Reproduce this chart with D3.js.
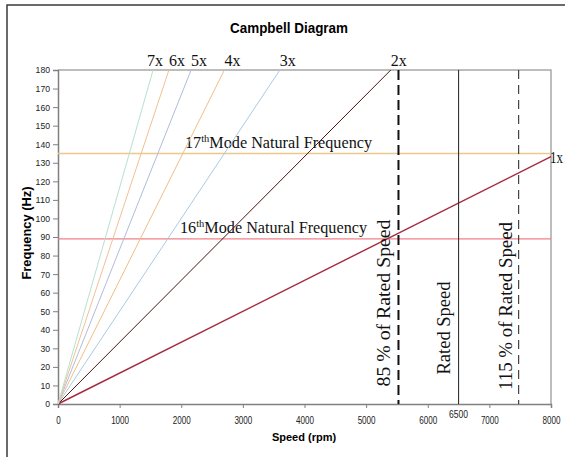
<!DOCTYPE html>
<html>
<head>
<meta charset="utf-8">
<script src="https://cdn.jsdelivr.net/npm/d3@7"></script>
<style>
  body { margin: 0; background: #fff; }
  svg { display: block; }
</style>
</head>
<body>
<div class="container"></div>
<script>
// engine orders, and where each line leaves the plot (rpm, Hz)
var orderLabels = ["1x", "2x", "3x", "4x", "5x", "6x", "7x"];
var orderEndRpm = [8000, 5400, 3600, 2700, 2160, 1800, 1543];
var orderEndHz  = [133.3, 180, 180, 180, 180, 180, 180];
var orderColors = ["#a52a3f", "#4a1414", "#a9c9e6", "#efbf86", "#b0bcdc", "#f1c094", "#b7e2cc"];

// natural frequencies (Hz)
var modeLabels = ["16", "17"];
var modeHz = [89, 135];
var modeColors = ["#f08088", "#ecc88c"];

// speed markers (rpm)
var speedLabels = ["85 %  of  Rated Speed", "Rated Speed", "115 % of Rated Speed"];
var speedRpm = [5525, 6500, 7475];

var xTicks = [0, 1000, 2000, 3000, 4000, 5000, 6000, 7000, 8000];
var yTicks = d3.range(0, 181, 10);

var W = 565, H = 457;
var x = d3.scaleLinear().domain([0, 8000]).range([58, 551]);
var y = d3.scaleLinear().domain([0, 180]).range([404, 70]);

var svg = d3.select(".container").append("svg")
  .attr("width", W).attr("height", H);

// outer frame
svg.append("rect")
  .attr("x", 7).attr("y", 5).attr("width", 600).attr("height", 500)
  .attr("fill", "none").attr("stroke", "#3a3a3a").attr("stroke-width", 1.5);

// title
svg.append("text")
  .attr("x", 289).attr("y", 33)
  .attr("text-anchor", "middle")
  .attr("font-family", "Liberation Sans, Arial, sans-serif")
  .attr("font-weight", "bold").attr("font-size", 15)
  .attr("textLength", 118).attr("lengthAdjust", "spacingAndGlyphs")
  .text("Campbell Diagram");

// plot frame top/right
svg.append("path")
  .attr("d", "M" + x(0) + "," + y(180) + "H" + x(8000) + "V" + y(0))
  .attr("fill", "none").attr("stroke", "#a8a8a8").attr("stroke-width", 1.5);

// axes
var yAxis = svg.append("g")
  .attr("transform", "translate(" + x(0) + ",0)")
  .call(d3.axisLeft(y).tickValues(yTicks).tickSize(5).tickPadding(3));
var xAxis = svg.append("g")
  .attr("transform", "translate(0," + y(0) + ")")
  .call(d3.axisBottom(x).tickValues(xTicks).tickFormat(d3.format("d")).tickSize(4).tickPadding(8));

[yAxis, xAxis].forEach(function(a) {
  a.select(".domain").attr("stroke", "#808080").attr("stroke-width", 1.5);
  a.selectAll(".tick line").attr("stroke", "#808080");
  a.selectAll(".tick text")
    .attr("fill", "#222")
    .attr("font-family", "Liberation Sans, Arial, sans-serif");
});
yAxis.selectAll(".tick text")
  .attr("font-size", 9)
  .attr("textLength", function(d) { return String(d).length * 4.8; })
  .attr("lengthAdjust", "spacingAndGlyphs");
xAxis.selectAll(".tick text")
  .attr("font-size", 11)
  .attr("textLength", function(d) { return String(d).length * 4.5; })
  .attr("lengthAdjust", "spacingAndGlyphs");

// extra 6500 label
svg.append("text")
  .attr("x", x(6500)).attr("y", 418)
  .attr("text-anchor", "middle")
  .attr("font-family", "Liberation Sans, Arial, sans-serif")
  .attr("font-size", 11).attr("fill", "#222")
  .attr("textLength", 19).attr("lengthAdjust", "spacingAndGlyphs")
  .text("6500");

// axis titles
svg.append("text")
  .attr("x", 304).attr("y", 441)
  .attr("text-anchor", "middle")
  .attr("font-family", "Liberation Sans, Arial, sans-serif")
  .attr("font-weight", "bold").attr("font-size", 11)
  .text("Speed (rpm)");

svg.append("text")
  .attr("transform", "translate(31,233) rotate(-90)")
  .attr("text-anchor", "middle")
  .attr("font-family", "Liberation Sans, Arial, sans-serif")
  .attr("font-weight", "bold").attr("font-size", 12)
  .attr("textLength", 93).attr("lengthAdjust", "spacingAndGlyphs")
  .text("Frequency (Hz)");

// mode lines
svg.append("g").selectAll("line")
  .data(modeHz)
  .enter().append("line")
    .attr("x1", x(0)).attr("x2", x(8000))
    .attr("y1", function(d) { return y(d); })
    .attr("y2", function(d) { return y(d); })
    .attr("stroke", function(d, i) { return modeColors[i]; })
    .attr("stroke-width", 1.4);

var serif = "Liberation Serif, 'Times New Roman', serif";
var modeText = svg.append("g").selectAll("text")
  .data(modeHz)
  .enter().append("text")
    .attr("x", function(d, i) { return i === 0 ? 180 : 185; })
    .attr("y", function(d) { return y(d) - 6; })
    .attr("font-family", serif).attr("font-size", 17).attr("fill", "#111")
    .attr("textLength", 187).attr("lengthAdjust", "spacingAndGlyphs");
modeText.append("tspan").text(function(d, i) { return modeLabels[i]; });
modeText.append("tspan").attr("dy", -6).attr("font-size", 11).text("th");
modeText.append("tspan").attr("dy", 6).text("Mode Natural Frequency");

// order lines
var line = d3.line().x(function(p) { return x(p[0]); }).y(function(p) { return y(p[1]); });
svg.append("g").selectAll("path")
  .data(orderLabels)
  .enter().append("path")
    .attr("d", function(d, i) { return line([[0, 0], [orderEndRpm[i], orderEndHz[i]]]); })
    .attr("fill", "none")
    .attr("stroke", function(d, i) { return orderColors[i]; })
    .attr("stroke-width", function(d, i) { return i === 0 ? 1.4 : 1; });

// order labels
svg.append("g").selectAll("text")
  .data(orderLabels)
  .enter().append("text")
    .attr("x", function(d, i) { return x(orderEndRpm[i]) + (i === 6 ? -6 : (i === 0 ? -1 : 0)); })
    .attr("y", function(d, i) { return i === 0 ? 163 : 66; })
    .attr("font-family", serif).attr("font-size", 17).attr("fill", "#111")
    .attr("textLength", function(d, i) { return i === 0 ? 13 : 16; })
    .attr("lengthAdjust", "spacingAndGlyphs")
    .text(function(d) { return d; });

// speed markers
svg.append("g").selectAll("line")
  .data(speedRpm)
  .enter().append("line")
    .attr("x1", function(d) { return x(d); })
    .attr("x2", function(d) { return x(d); })
    .attr("y1", y(180)).attr("y2", y(0))
    .attr("stroke", function(d, i) { return i === 0 ? "#111" : "#333"; })
    .attr("stroke-width", function(d, i) { return i === 0 ? 2 : 1.1; })
    .attr("stroke-dasharray", function(d, i) { return i === 0 ? "10,5" : (i === 2 ? "9,6" : null); });

var speedTextX = [384, 444, 506];
var speedTextY = [303, 328, 306];
var speedTextLen = [167, 93, 168];
svg.append("g").selectAll("text")
  .data(speedLabels)
  .enter().append("text")
    .attr("transform", function(d, i) { return "translate(" + speedTextX[i] + "," + speedTextY[i] + ") rotate(-90)"; })
    .attr("text-anchor", "middle")
    .attr("dy", "0.35em")
    .attr("font-family", serif).attr("font-size", 18).attr("fill", "#111")
    .attr("textLength", function(d, i) { return speedTextLen[i]; })
    .attr("lengthAdjust", "spacingAndGlyphs")
    .text(function(d) { return d; });
</script>
</body>
</html>
